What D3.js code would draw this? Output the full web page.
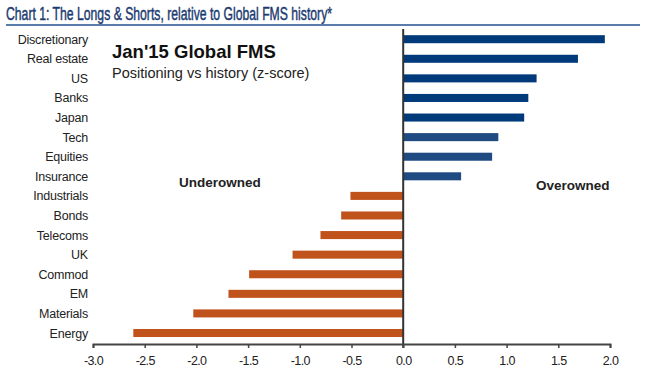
<!DOCTYPE html>
<html>
<head>
<meta charset="utf-8">
<script src="https://cdn.jsdelivr.net/npm/d3@7"></script>
<style>
  body { margin: 0; background: #fff; }
  text { font-family: "Liberation Sans", Arial, sans-serif; }
</style>
</head>
<body>
<div class="vis-longshort"></div>
<script>
const categories = ["Discretionary", "Real estate", "US", "Banks", "Japan", "Tech", "Equities", "Insurance",
    "Industrials", "Bonds", "Telecoms", "UK", "Commod", "EM", "Materials", "Energy"];
const zscores = [1.95, 1.69, 1.29, 1.21, 1.17, 0.92, 0.86, 0.56,
    -0.51, -0.60, -0.80, -1.07, -1.49, -1.69, -2.03, -2.61];
const xTicks = [-3.0, -2.5, -2.0, -1.5, -1.0, -0.5, 0.0, 0.5, 1.0, 1.5, 2.0];

const W = 645, H = 377;
const svg = d3.select(".vis-longshort").append("svg")
    .attr("width", W).attr("height", H);

// header
svg.append("text")
    .attr("x", 6).attr("y", 20)
    .attr("fill", "#1b3b70")
    .attr("stroke", "#1b3b70").attr("stroke-width", 0.45)
    .style("font-family", "'Liberation Sans Narrow', 'Arial Narrow', sans-serif")
    .style("font-size", "18px")
    .attr("textLength", 326).attr("lengthAdjust", "spacingAndGlyphs")
    .text("Chart 1: The Longs & Shorts, relative to Global FMS history*");
svg.append("rect")
    .attr("x", 6).attr("y", 24).attr("width", 634).attr("height", 2)
    .attr("fill", "#5a7cab");

// scales
const x = d3.scaleLinear().domain([-3, 2]).range([93, 610]);
const y = d3.scaleBand().domain(categories).range([29.4, 342.8])
    .paddingInner(0.59).paddingOuter(0.295);
const axisY = 344;

// bars
svg.selectAll(".bar")
    .data(categories)
    .enter()
    .append("rect")
    .attr("class", "bar")
    .attr("x", (d, i) => x(Math.min(0, zscores[i])))
    .attr("y", d => y(d))
    .attr("width", (d, i) => Math.abs(x(zscores[i]) - x(0)))
    .attr("height", y.bandwidth())
    .attr("fill", (d, i) => zscores[i] < 0 ? "#c0521c" : (i < 5 ? "#003a7a" : "#1f4a82"));

// category labels
svg.selectAll(".cat")
    .data(categories)
    .enter()
    .append("text")
    .attr("class", "cat")
    .attr("x", 88)
    .attr("y", d => y(d) + y.bandwidth() / 2 + 4.5)
    .attr("text-anchor", "end")
    .attr("fill", "#222")
    .style("font-size", "12.5px")
    .style("letter-spacing", "-0.2px")
    .text(d => d);

// zero line
svg.append("line")
    .attr("x1", x(0)).attr("x2", x(0))
    .attr("y1", 29).attr("y2", axisY + 4)
    .attr("stroke", "#333").attr("stroke-width", 2);

// x axis
const xAxis = svg.append("g")
    .attr("class", "x axis")
    .attr("transform", "translate(0," + axisY + ")")
    .call(d3.axisBottom(x).tickValues(xTicks).tickFormat(d3.format(".1f")).tickSize(4).tickSizeOuter(4));
xAxis.select(".domain").attr("stroke", "#444").attr("stroke-width", 2);
xAxis.selectAll(".tick line").attr("stroke", "#444").attr("stroke-width", 1.5);
xAxis.selectAll(".tick text")
    .attr("fill", "#222")
    .attr("y", 12)
    .style("font-size", "12.5px")
    .style("letter-spacing", "-0.6px")
    .style("font-family", "'Liberation Sans', Arial, sans-serif")
    .text(d => d3.format(".1f")(d).replace("−", "-"));

// annotations
svg.append("text")
    .attr("x", 112).attr("y", 58)
    .attr("fill", "#111")
    .style("font-size", "18.5px").style("font-weight", "bold")
    .text("Jan'15 Global FMS");
svg.append("text")
    .attr("x", 112).attr("y", 78)
    .attr("fill", "#222")
    .style("font-size", "14.5px")
    .text("Positioning vs history (z-score)");
svg.append("text")
    .attr("x", 179).attr("y", 187)
    .attr("fill", "#222")
    .style("font-size", "13.5px").style("font-weight", "bold")
    .text("Underowned");
svg.append("text")
    .attr("x", 536).attr("y", 190)
    .attr("fill", "#222")
    .style("font-size", "13.5px").style("font-weight", "bold")
    .text("Overowned");
</script>
</body>
</html>
